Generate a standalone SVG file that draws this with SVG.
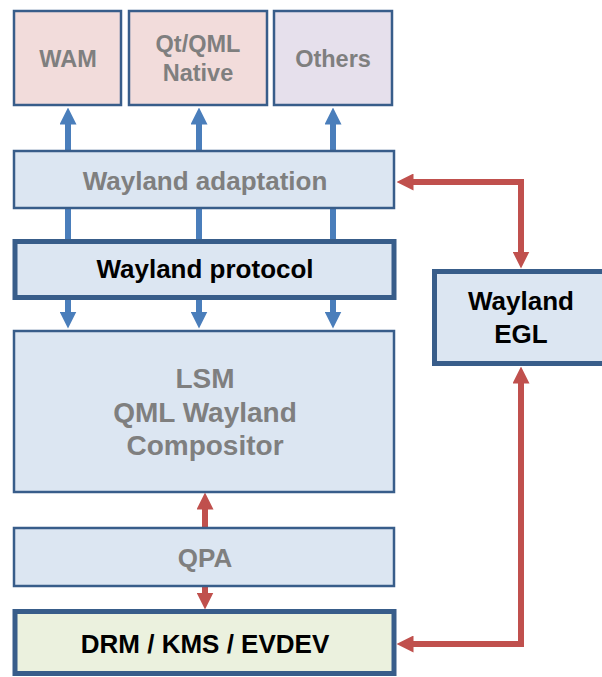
<svg xmlns="http://www.w3.org/2000/svg" width="602" height="677" viewBox="0 0 602 677">
<style>
text{font-family:"Liberation Sans",Arial,sans-serif;font-weight:bold;text-anchor:middle}
.g{fill:#7F7F7F}
.k{fill:#000}
.thin{stroke:#385D8A;stroke-width:2.5}
.thick{stroke:#385D8A;stroke-width:5}
.blue{fill:none;stroke:#4A7EBB;stroke-width:6}
.red{fill:none;stroke:#C0504D;stroke-width:6;stroke-linejoin:miter}
</style>
<defs>
<marker id="ab" markerUnits="userSpaceOnUse" markerWidth="17" markerHeight="17" viewBox="0 0 17 17" refX="0.5" refY="8.5" orient="auto-start-reverse"><path d="M0,0 L17,8.5 L0,17 z" fill="#4A7EBB"/></marker>
<marker id="ar" markerUnits="userSpaceOnUse" markerWidth="17" markerHeight="17" viewBox="0 0 17 17" refX="0.5" refY="8.5" orient="auto-start-reverse"><path d="M0,0 L17,8.5 L0,17 z" fill="#C0504D"/></marker>
</defs>
<g id="connectors">
<line class="blue" x1="68" y1="240" x2="68" y2="124" marker-end="url(#ab)"/>
<line class="blue" x1="199" y1="240" x2="199" y2="124" marker-end="url(#ab)"/>
<line class="blue" x1="333" y1="240" x2="333" y2="124" marker-end="url(#ab)"/>
<line class="blue" x1="68" y1="298" x2="68" y2="312" marker-end="url(#ab)"/>
<line class="blue" x1="199" y1="298" x2="199" y2="312" marker-end="url(#ab)"/>
<line class="blue" x1="333" y1="298" x2="333" y2="312" marker-end="url(#ab)"/>
<path class="red" d="M413,182 H521 V252" marker-start="url(#ar)" marker-end="url(#ar)"/>
<path class="red" d="M521,383 V644 H413" marker-start="url(#ar)" marker-end="url(#ar)"/>
<line class="red" x1="205" y1="528" x2="205" y2="509" marker-end="url(#ar)"/>
<line class="red" x1="205" y1="586" x2="205" y2="593" marker-end="url(#ar)"/>
</g>
<g id="wam">
<rect class="thin" x="14" y="11" width="107" height="94" fill="#F2DCDB"/>
<text class="g" x="68" y="67" font-size="23.5">WAM</text>
</g>
<g id="qtqml">
<rect class="thin" x="129" y="11" width="138" height="94" fill="#F2DCDB"/>
<text class="g" x="198" y="52" font-size="23.5">Qt/QML</text>
<text class="g" x="198" y="81" font-size="23.5">Native</text>
</g>
<g id="others">
<rect class="thin" x="274" y="11" width="118" height="94" fill="#E6E0EC"/>
<text class="g" x="333" y="67" font-size="23.5">Others</text>
</g>
<g id="adaptation">
<rect class="thin" x="14" y="151" width="380" height="57" fill="#DCE6F2"/>
<text class="g" x="205" y="190" font-size="26">Wayland adaptation</text>
</g>
<g id="protocol">
<rect class="thick" x="15" y="241.5" width="379" height="56" fill="#DCE6F2"/>
<text class="k" x="205" y="278" font-size="26">Wayland protocol</text>
</g>
<g id="egl">
<rect class="thick" x="434.5" y="271.5" width="180" height="92" fill="#DCE6F2"/>
<text class="k" x="521" y="310" font-size="26">Wayland</text>
<text class="k" x="521" y="343" font-size="26">EGL</text>
</g>
<g id="lsm">
<rect class="thin" x="14" y="331" width="380" height="161" fill="#DCE6F2"/>
<text class="g" x="205" y="388" font-size="28">LSM</text>
<text class="g" x="205" y="421.5" font-size="28">QML Wayland</text>
<text class="g" x="205" y="455" font-size="28">Compositor</text>
</g>
<g id="qpa">
<rect class="thin" x="14" y="528" width="380" height="58" fill="#DCE6F2"/>
<text class="g" x="205" y="567" font-size="26">QPA</text>
</g>
<g id="drm">
<rect class="thick" x="15" y="611.5" width="379" height="62" fill="#EBF1DE"/>
<text class="k" x="205" y="653" font-size="26">DRM / KMS / EVDEV</text>
</g>
</svg>
